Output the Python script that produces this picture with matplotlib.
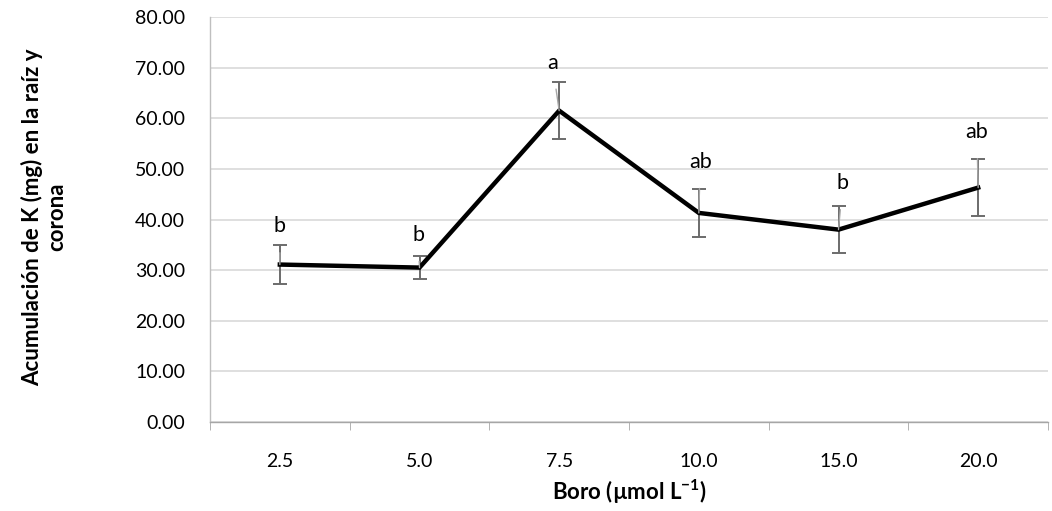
import numpy as np
import matplotlib
matplotlib.use("Agg")
from matplotlib import pyplot as plt

# data
boro = ["2.5", "5.0", "7.5", "10.0", "15.0", "20.0"]
k_acum = [31.1, 30.5, 61.5, 41.3, 38.0, 46.3]
k_err = [3.8, 2.2, 5.6, 4.7, 4.7, 5.7]
letras = ["b", "b", "a", "ab", "b", "ab"]
# where the letters sit (value units) and their small x shift (category units)
letra_y = [38.7, 37.0, 71.0, 51.4, 47.2, 57.3]
letra_dx = [0.0, -0.01, -0.05, 0.01, 0.03, -0.01]

plt.rcParams["font.family"] = ["Lato", "DejaVu Sans"]

fig = plt.figure(figsize=(10.52, 5.11), dpi=100)
ax = fig.add_axes([210 / 1052, 1 - 422 / 511, 838 / 1052, 405 / 511])

x = np.arange(len(boro))
ax.errorbar(x, k_acum, yerr=k_err, fmt="none", ecolor="#6b6b6b",
            elinewidth=1.4, capsize=5, capthick=1.4, zorder=3)
ax.plot(x, k_acum, color="black", lw=3.2, solid_joinstyle="miter", zorder=4)

for i in range(len(boro)):
    ax.annotate(letras[i], xy=(x[i], k_acum[i]),
                xytext=(x[i] + letra_dx[i], letra_y[i]),
                ha="center", va="center", fontsize=15.5,
                arrowprops=dict(arrowstyle="-", color="#a6a6a6", lw=1.0,
                                shrinkA=10, shrinkB=0),
                zorder=5)

ax.set_xlim(-0.5, len(boro) - 0.5)
ax.set_ylim(0, 80)
ax.set_yticks(np.arange(0, 81, 10))
ax.set_yticklabels(["%.2f" % v for v in np.arange(0, 81, 10)])
ax.set_xticks(x)
ax.set_xticklabels(boro)
ax.set_xticks(np.arange(-0.5, len(boro), 1), minor=True)

ax.grid(axis="y", color="#d9d9d9", lw=1.2)
ax.set_axisbelow(True)
for s in ["top", "right"]:
    ax.spines[s].set_visible(False)
ax.spines["left"].set_color("#bfbfbf")
ax.spines["bottom"].set_color("#a6a6a6")
ax.spines["left"].set_linewidth(1.0)
ax.spines["bottom"].set_linewidth(1.0)

ax.tick_params(axis="y", length=0, pad=18, labelsize=14, labelcolor="black")
ax.tick_params(axis="x", which="major", length=0, pad=22, labelsize=14)
ax.tick_params(axis="x", which="minor", length=6, color="#a6a6a6", direction="out")

ax.set_xlabel("Boro (µmol L$^{\\mathregular{-1}}$)", fontsize=16,
              fontweight="bold", labelpad=6)
fig.text(44 / 1052, 1 - 217 / 511, "Acumulación de K (mg) en la raíz y\ncorona",
         rotation=90, ha="center", va="center", multialignment="center",
         fontsize=16, fontweight="bold", linespacing=1.15)

fig.savefig("out.png", dpi=100)
